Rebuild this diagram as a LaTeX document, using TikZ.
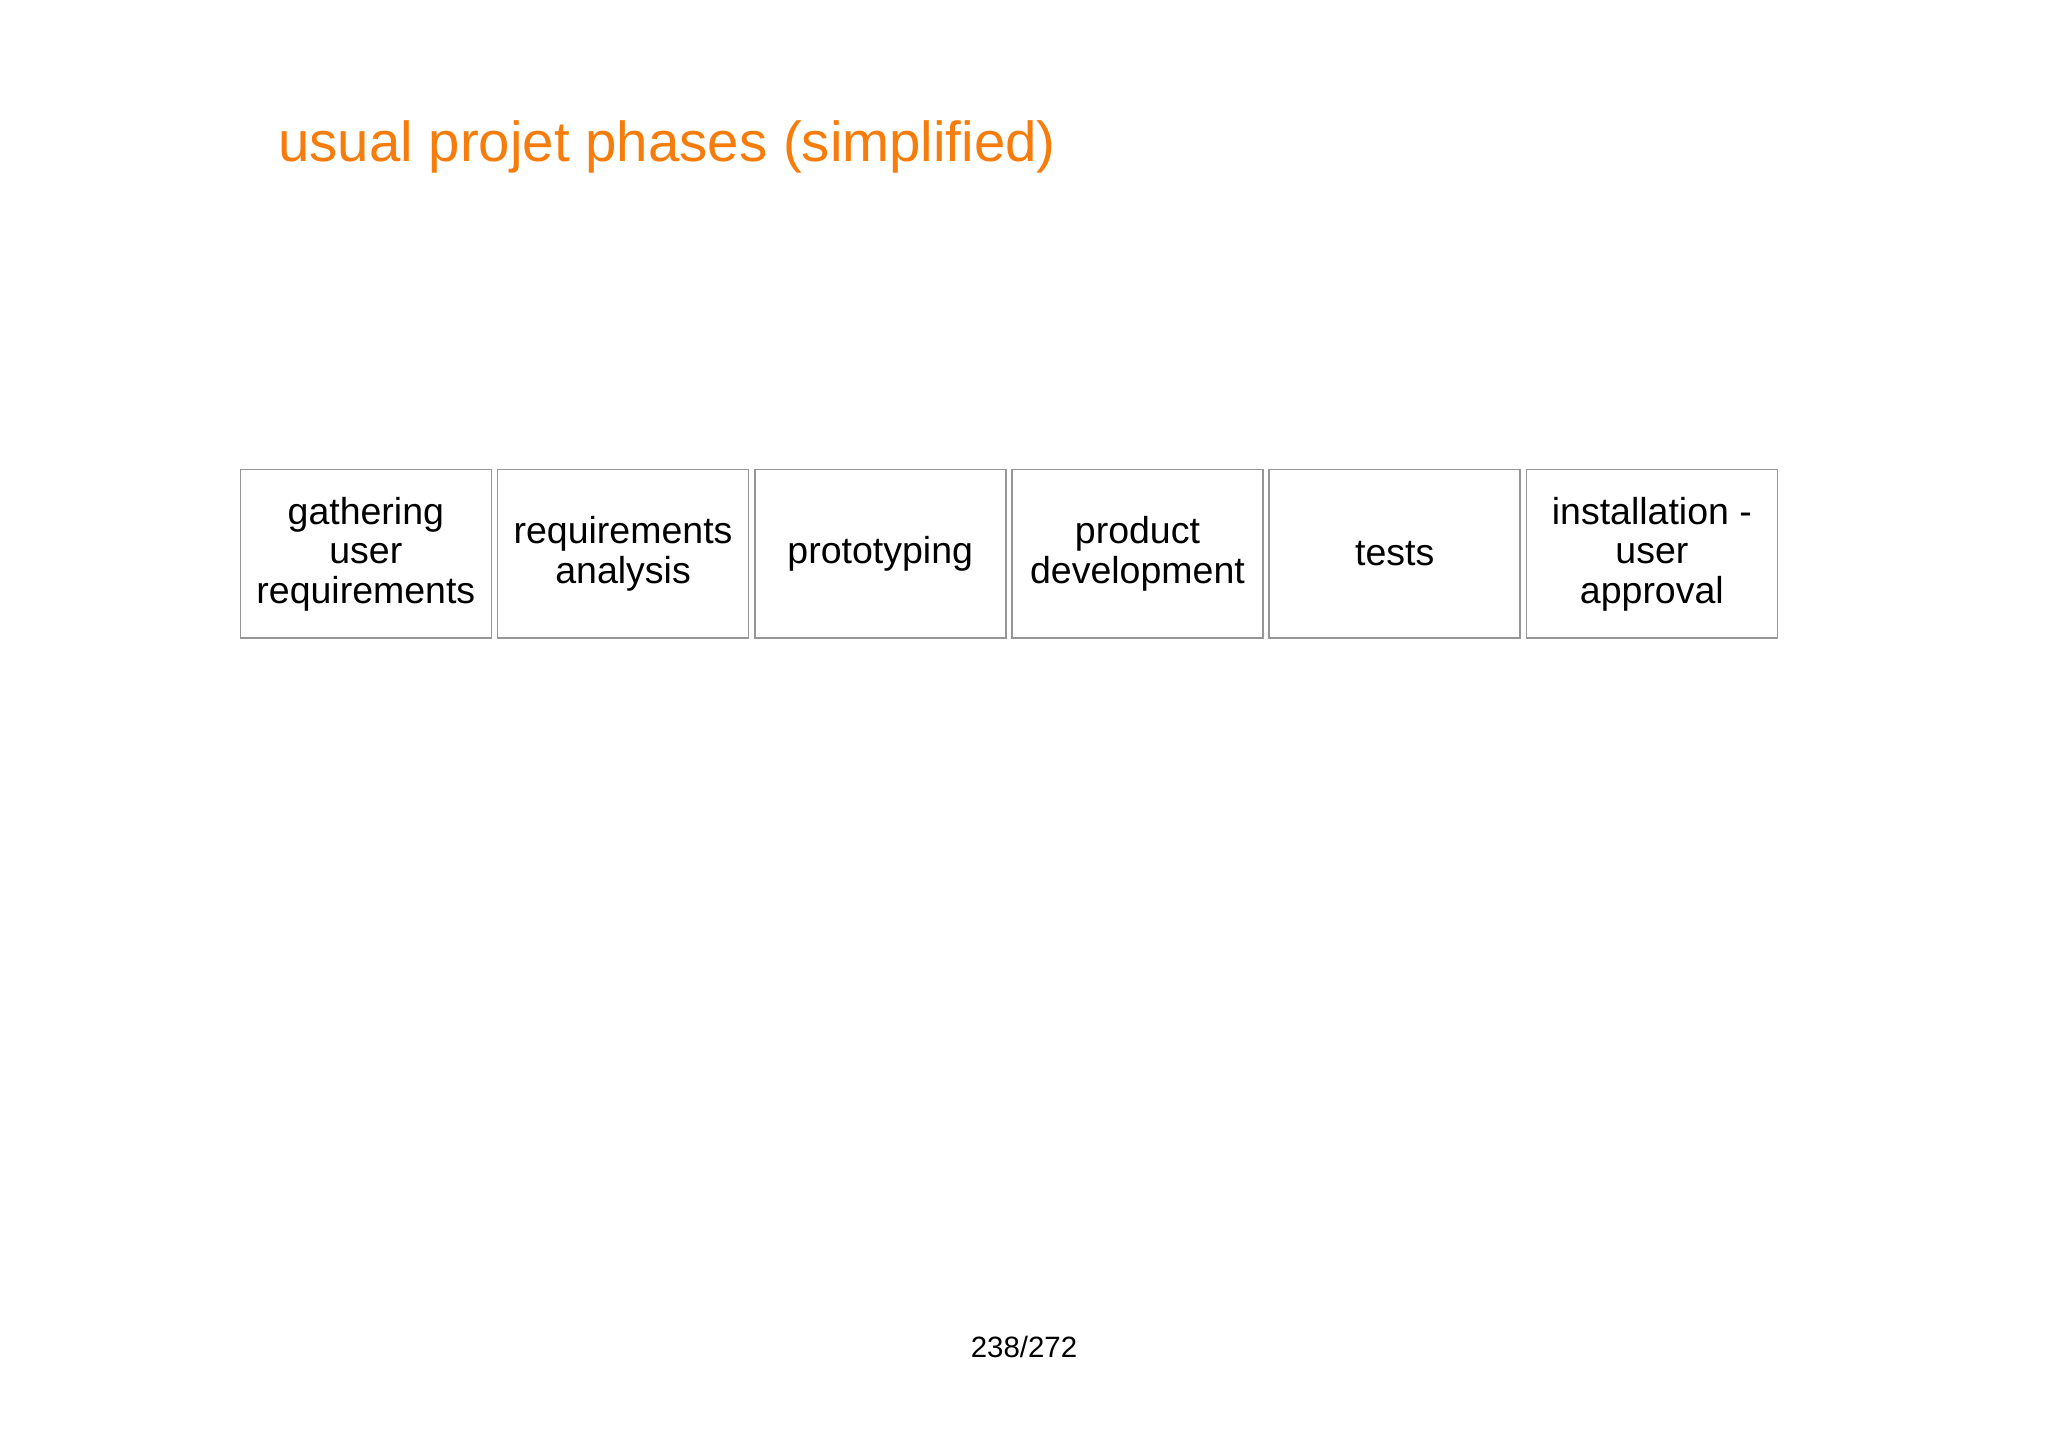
\documentclass[tikz,border=0pt]{standalone}
\usepackage{fontspec}
\setmainfont{Liberation Sans}
\definecolor{titleorange}{RGB}{246,125,12}
\definecolor{boxgray}{RGB}{150,150,150}
\begin{document}
\begin{tikzpicture}[x=1pt,y=1pt,
  phase/.style={draw=boxgray, line width=0.75pt, minimum width=125.5pt, minimum height=84.3pt,
    inner sep=0pt, align=center, anchor=north west,
    font=\fontsize{18.75}{19.75}\selectfont, text=black},
  titletext/.style={anchor=base west, inner sep=0pt, text=titleorange, font=\fontsize{28.2}{32}\selectfont},
  pagetext/.style={anchor=base, inner sep=0pt, font=\fontsize{14.7}{17}\selectfont}]
\useasboundingbox[fill=white] (0,0) rectangle (1024,-724);
\node[titletext] (title) at (139,-80.85) {usual projet phases (simplified)};
\node[phase] (p1) at (119.8,-234.4) {gathering\\user\\requirements};
\node[phase] (p2) at (248.4,-234.4) {requirements\\analysis};
\node[phase] (p3) at (377.0,-234.4) {prototyping};
\node[phase] (p4) at (505.6,-234.4) {product\\development};
\node[phase] (p5) at (634.2,-234.4) {tests};
\node[phase] (p6) at (762.8,-234.4) {installation -\\user\\approval};
\node[pagetext] (page) at (512,-678.65) {238/272};
\end{tikzpicture}
\end{document}
